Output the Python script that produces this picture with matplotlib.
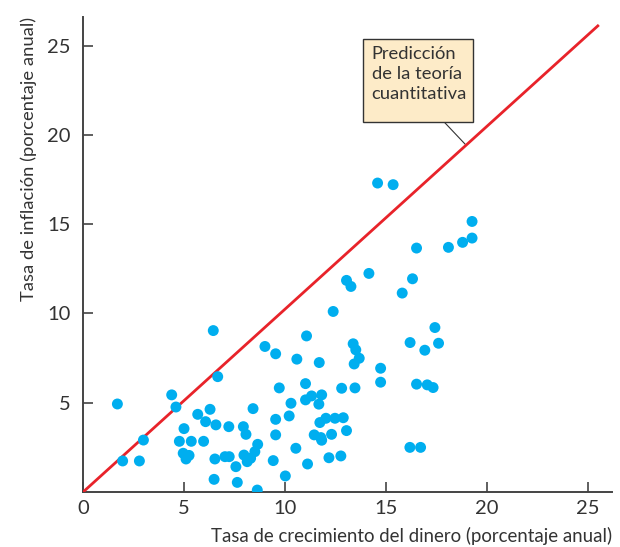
import matplotlib
matplotlib.use('Agg')
import matplotlib.pyplot as plt
from matplotlib.patches import Rectangle

# money growth (x) vs inflation (y), % per year
money_growth = [1.70, 1.96, 2.79, 2.99, 4.39, 4.60, 4.77, 5.00, 4.96, 5.10,
                5.25, 5.36, 5.68, 5.97, 6.07, 6.29, 6.45, 6.49, 6.53, 6.58,
                6.67, 7.03, 7.24, 7.22, 7.57, 7.64, 7.94, 8.07, 7.97, 8.13,
                8.30, 8.51, 8.65, 8.42, 8.63, 9.01, 9.42, 9.54, 9.54, 9.54,
                9.72, 10.02, 10.21, 10.30, 10.54, 10.59, 11.02, 11.02, 11.07, 11.12,
                11.32, 11.45, 11.68, 11.70, 11.73, 11.78, 11.82, 11.82, 12.03, 12.18,
                12.31, 12.39, 12.48, 12.77, 12.81, 12.89, 13.05, 13.05, 13.27, 13.38,
                13.51, 13.68, 13.43, 13.47, 14.16, 14.59, 14.74, 14.74, 15.36, 15.81,
                16.19, 16.20, 16.32, 16.52, 16.52, 16.72, 16.93, 17.05, 17.34, 17.43,
                17.61, 18.10, 18.80, 19.27, 19.27]
inflation = [4.93, 1.74, 1.74, 2.91, 5.44, 4.76, 2.84, 3.55, 2.17, 1.85,
             2.05, 2.84, 4.35, 2.84, 3.94, 4.63, 9.04, 0.71, 1.85, 3.76,
             6.46, 1.98, 1.98, 3.66, 1.42, 0.54, 3.66, 3.23, 2.07, 1.70,
             1.89, 2.26, 2.67, 4.67, 0.11, 8.15, 1.76, 7.74, 4.07, 3.20,
             5.83, 0.90, 4.26, 4.97, 2.45, 7.44, 6.07, 5.16, 8.74, 1.57,
             5.38, 3.20, 4.92, 7.25, 3.89, 3.05, 5.44, 2.90, 4.13, 1.92,
             3.23, 10.11, 4.13, 2.02, 5.81, 4.16, 11.85, 3.44, 11.51, 8.30,
             7.96, 7.49, 7.17, 5.83, 12.24, 17.30, 6.93, 6.15, 17.21, 11.14,
             2.50, 8.37, 11.94, 13.66, 6.04, 2.50, 7.94, 6.00, 5.85, 9.21,
             8.33, 13.70, 13.98, 15.15, 14.22]

ticks = [0, 5, 10, 15, 20, 25]
theory_x = [0, 25.5]
theory_y = [0, 26.1]
box_lines = ['Predicción', 'de la teoría', 'cuantitativa']

plt.rcParams['font.family'] = ['Lato', 'DejaVu Sans']
txt = '#333333'

fig = plt.figure(figsize=(6.2, 5.47), dpi=100)
ax = fig.add_axes([0.134, 0.1005, 0.853, 0.8685])

ax.plot(theory_x, theory_y, color='#e8232a', lw=2.0, zorder=3)
ax.scatter(money_growth, inflation, s=62, color='#00aeef', edgecolors='none', zorder=4)

ax.set_xlim(0, 26.2)
ax.set_ylim(0, 26.6)
ax.set_xticks(ticks)
ax.set_yticks(ticks[1:])
ax.set_xticklabels([str(t) for t in ticks])
ax.tick_params(direction='in', length=7, width=1.2, color='#444444',
               labelsize=14.5, labelcolor=txt, pad=6)
ax.tick_params(axis='y', pad=9)
for s in ['top', 'right']:
    ax.spines[s].set_visible(False)
for s in ['left', 'bottom']:
    ax.spines[s].set_color('#444444')
    ax.spines[s].set_linewidth(1.4)

ax.set_xlabel('Tasa de crecimiento del dinero (porcentaje anual)', fontsize=13.4,
              color=txt, ha='right', x=1.0, labelpad=7)
ax.set_ylabel('Tasa de inflación (porcentaje anual)', fontsize=13.2,
              color=txt, ha='right', y=1.0, labelpad=7)

# annotation box
ax.add_patch(Rectangle((13.86, 20.74), 5.45, 4.65, facecolor='#fdebc8',
                       edgecolor='#333333', lw=1.0, zorder=5))
ax.text(14.3, 25.0, '\n'.join(box_lines), fontsize=13.2, color=txt,
        ha='left', va='top', linespacing=1.32, zorder=6)
ax.plot([17.87, 18.95], [20.74, 19.45], color='#333333', lw=0.8, zorder=2)

fig.savefig('out.png', dpi=100)
